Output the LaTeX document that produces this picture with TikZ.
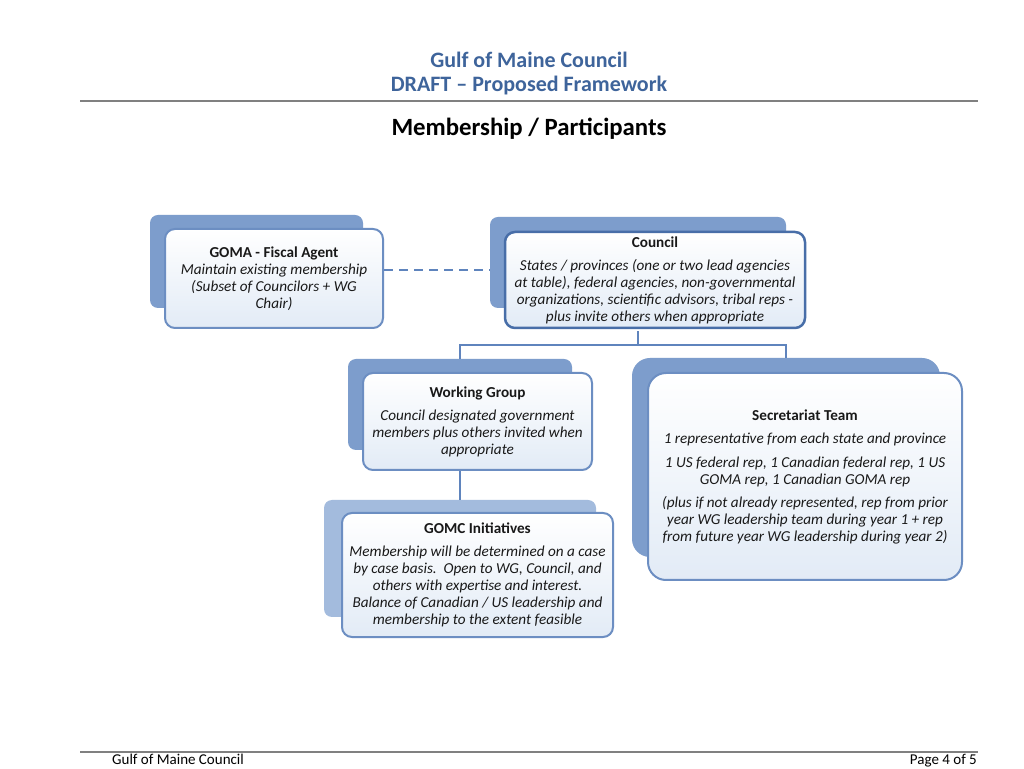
\documentclass[tikz,border=0pt]{standalone}
\usepackage{fontspec}
\setmainfont{Carlito}
\usetikzlibrary{calc}
\definecolor{hdrblue}{RGB}{62,100,155}
\definecolor{backblue}{RGB}{125,157,204}
\definecolor{backlight}{RGB}{163,187,221}
\definecolor{edgeblue}{RGB}{108,142,194}
\definecolor{edgedark}{RGB}{72,110,168}
\definecolor{fillblue}{RGB}{226,235,246}
\definecolor{lineblue}{RGB}{95,132,189}
\tikzset{
  backbox/.style={draw=none, fill=backblue, rounded corners=8pt, inner sep=0pt},
  frontbox/.style={draw=edgeblue, line width=2pt, rounded corners=10pt, top color=white,
    bottom color=fillblue, align=center, inner sep=0pt, text=black!90,
    font=\fontsize{15.2}{17}\selectfont},
  conn/.style={draw=lineblue, line width=2.5pt},
  hdr/.style={text=hdrblue, font=\fontsize{22}{24}\selectfont\bfseries, inner sep=0pt},
  foot/.style={text=black, font=\fontsize{15}{16}\selectfont, inner sep=0pt}
}
\begin{document}
\begin{tikzpicture}[x=1pt,y=1pt]
\useasboundingbox (0,0) rectangle (1024,768);
\fill[white] (0,0) rectangle (1024,768);
% header
\node[hdr] (h1) at (529,708) {Gulf of Maine Council};
\node[hdr] (h2) at (529,682) {DRAFT \textendash{} Proposed Framework};
\draw[gray, line width=2pt] (80,667) -- (978,667);
\node[font=\fontsize{24.8}{27}\selectfont\bfseries, inner sep=0pt] (ttl) at (529,639) {Membership / Participants};
% back boxes
\node[backbox, minimum width=213pt, minimum height=93pt] (gomaB) at (256.5,506.5) {};
\node[backbox, minimum width=296pt, minimum height=91pt] (councilB) at (638,505.5) {};
\node[backbox, minimum width=224pt, minimum height=91pt] (wgB) at (460,363.5) {};
\node[backbox, minimum width=308pt, minimum height=199pt, rounded corners=18pt] (secB) at (786,310.5) {};
\node[backbox, fill=backlight, minimum width=272pt, minimum height=117pt] (gomcB) at (460,209.5) {};
% connectors
\draw[conn] (councilB.south) ++(0,-23) coordinate (cb) -- ++(0,-14) coordinate (cj);
\draw[conn] (wgB.north) |- (cj) -| (secB.north);
\draw[conn] (wgB.south) ++(0,-20) coordinate (wgb) -- (wgb |- gomcB.north);
% front boxes
\node[frontbox, minimum width=218pt, minimum height=99pt] (goma) at (274,489.5)
  {\textbf{GOMA - Fiscal Agent}\\ \itshape Maintain existing membership\\ \itshape (Subset of Councilors + WG\\ \itshape Chair)};
\node[frontbox, draw=edgedark, line width=2.5pt, minimum width=300pt, minimum height=96pt] (council) at (655,488)
  {\textbf{Council}\\[6pt] \itshape States / provinces (one or two lead agencies\\ \itshape at table), federal agencies, non-governmental\\ \itshape organizations, scientific advisors, tribal reps -\\ \itshape plus invite others when appropriate};
\node[frontbox, minimum width=229pt, minimum height=97pt] (wg) at (477.5,346.5)
  {\textbf{Working Group}\\[6pt] \itshape Council designated government\\ \itshape members plus others invited when\\ \itshape appropriate};
\node[frontbox, rounded corners=18pt, minimum width=314pt, minimum height=207pt] (sec) at (805,291.5)
  {\textbf{Secretariat Team}\\[6pt] \itshape 1 representative from each state and province\\[7pt]
   \itshape 1 US federal rep, 1 Canadian federal rep, 1 US\\ \itshape GOMA rep, 1 Canadian GOMA rep\\[6pt]
   \itshape (plus if not already represented, rep from prior\\ \itshape year WG leadership team during year 1 + rep\\ \itshape from future year WG leadership during year 2)};
\node[frontbox, minimum width=271pt, minimum height=124pt] (gomc) at (477.5,193)
  {\textbf{GOMC Initiatives}\\[6pt] \itshape Membership will be determined on a case\\ \itshape by case basis.\ \ Open to WG, Council, and\\ \itshape others with expertise and interest.\\ \itshape Balance of Canadian / US leadership and\\ \itshape membership to the extent feasible};
% dashed link
\draw[conn, dash pattern=on 9pt off 6pt] ([yshift=8.5pt]goma.east) -- ([yshift=8.5pt]goma.east -| councilB.west);
% footer
\draw[gray, line width=1.5pt] (80,16) -- (978,16);
\node[foot, anchor=base west] (f1) at (112,4) {Gulf of Maine Council};
\node[foot, anchor=base east] (f2) at (977,4) {Page 4 of 5};
\end{tikzpicture}
\end{document}
